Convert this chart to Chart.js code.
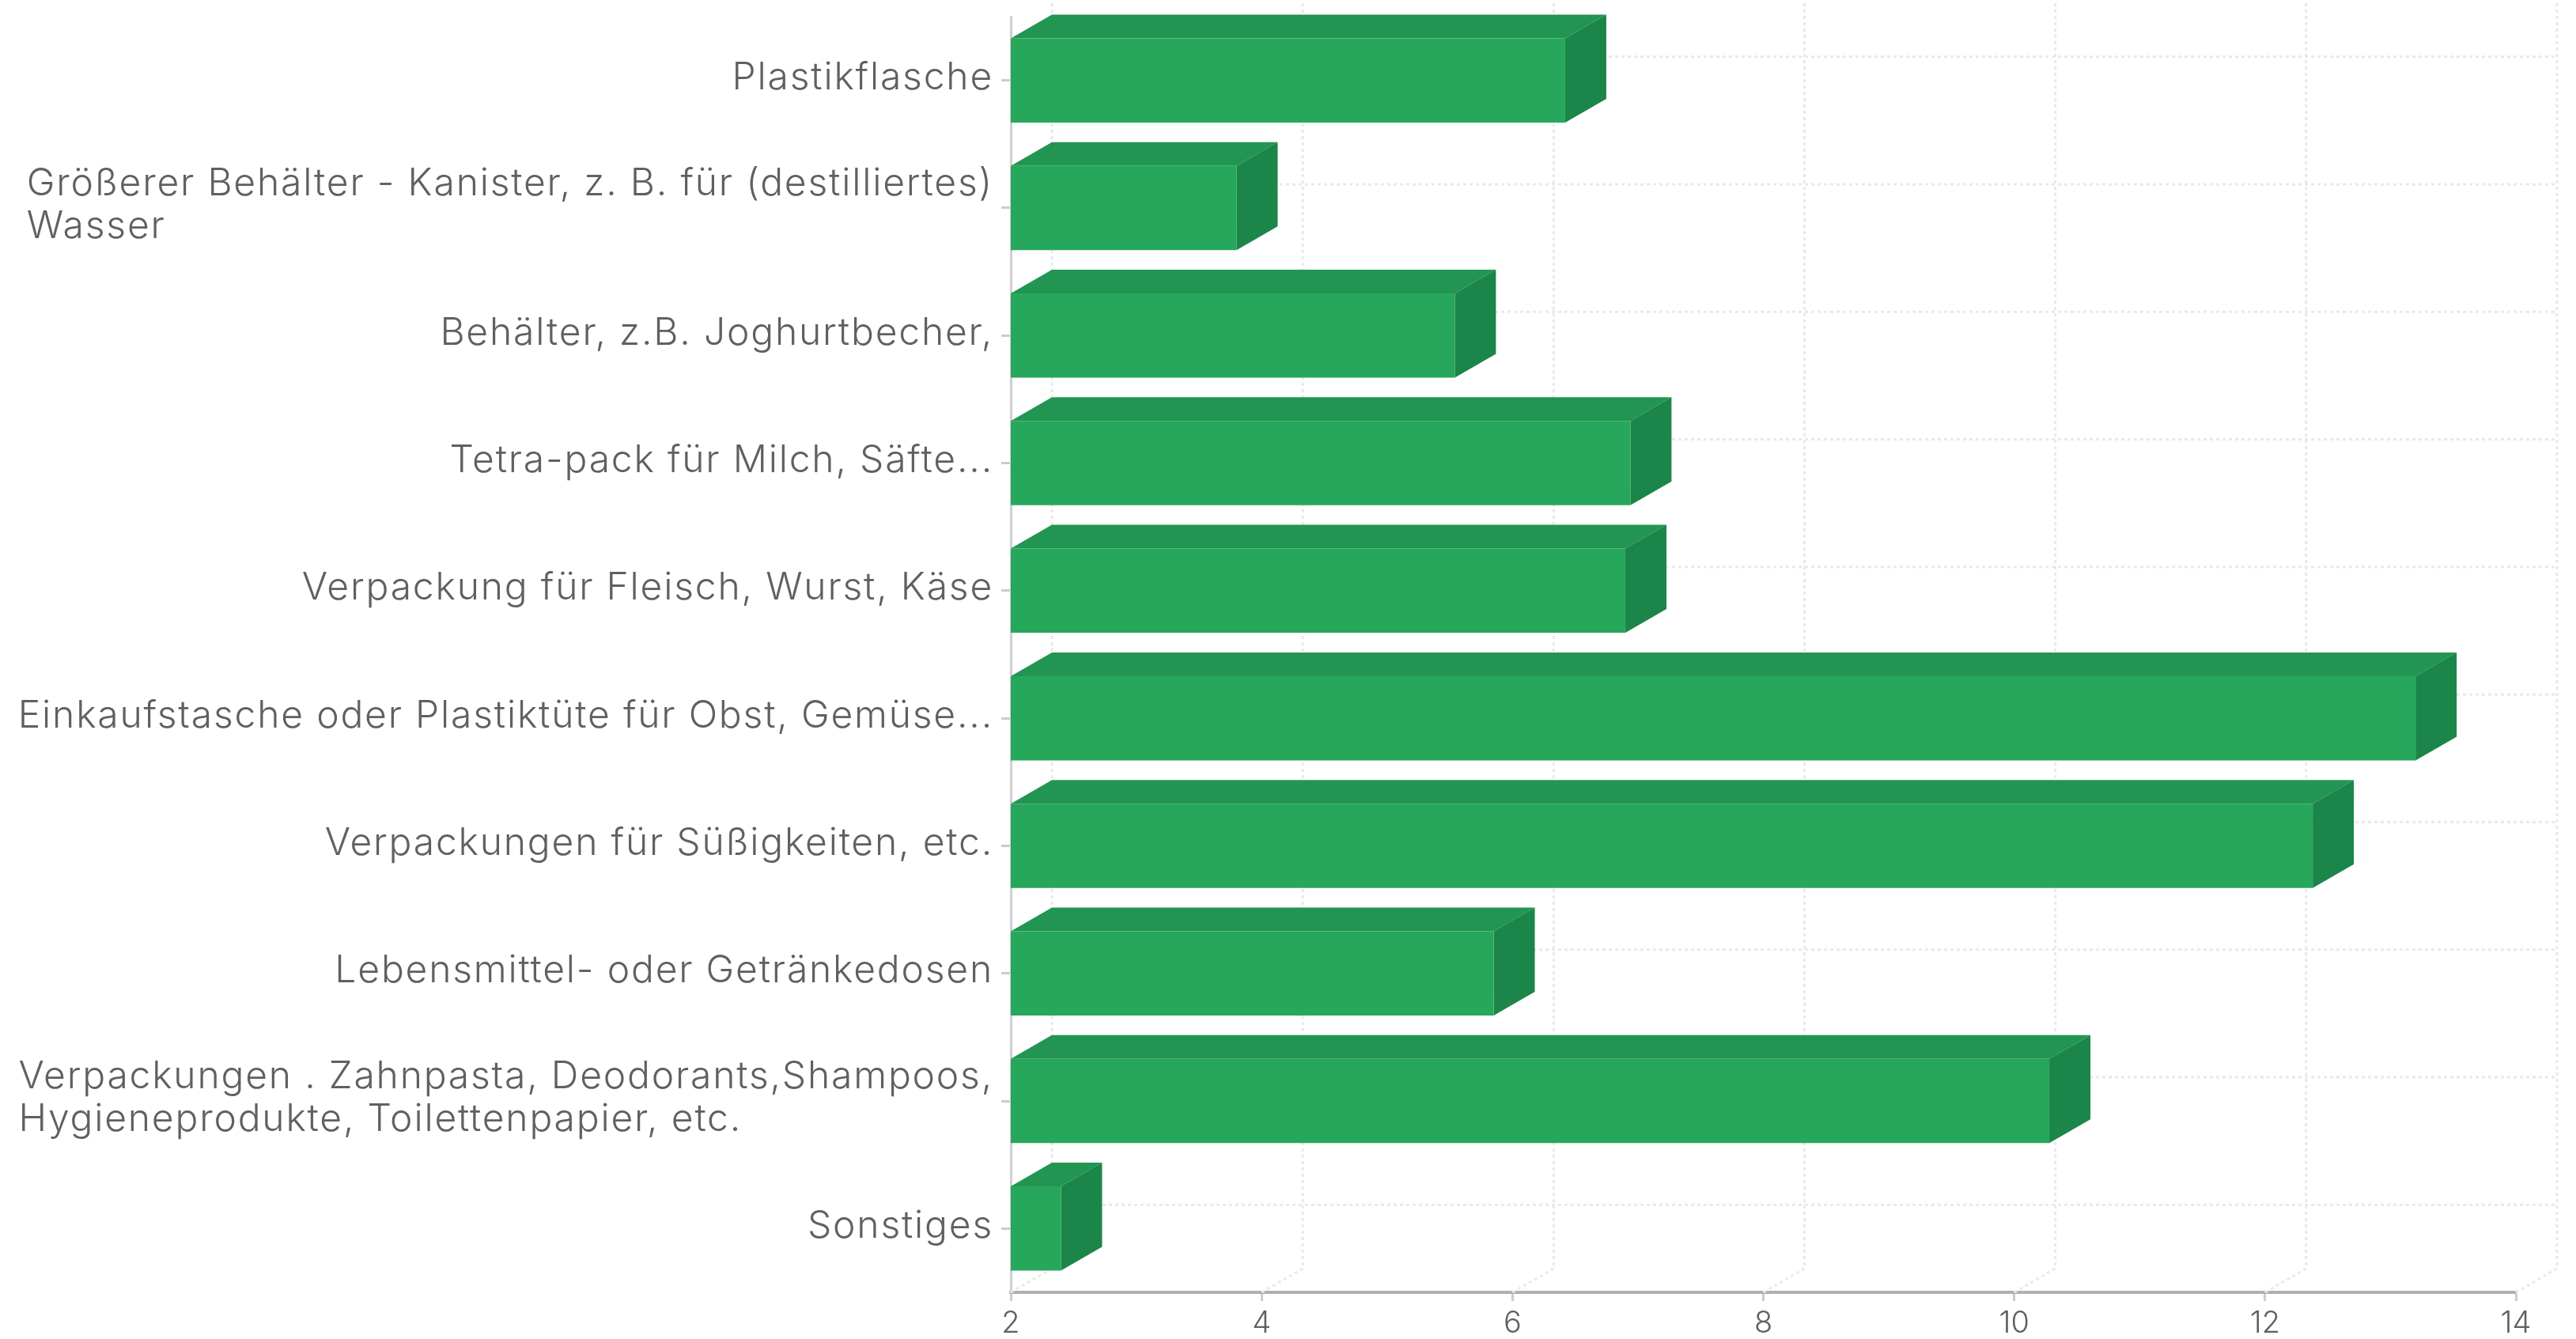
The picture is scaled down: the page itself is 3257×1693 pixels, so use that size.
<!DOCTYPE html>
<html>
<head>
<meta charset="utf-8">
<title>Chart</title>
<script src="https://cdn.jsdelivr.net/npm/chart.js@4"></script>
<style>
html, body { margin: 0; padding: 0; background: #fff; }
#wrap { width: 3257px; height: 1693px; }
</style>
</head>
<body>
<div id="wrap"><canvas id="lienzo"></canvas></div>
<script>
const categorias = [
    "Plastikflasche",
    ["Größerer Behälter - Kanister, z. B. für (destilliertes)", "Wasser"],
    "Behälter, z.B. Joghurtbecher,",
    "Tetra-pack für Milch, Säfte...",
    "Verpackung für Fleisch, Wurst, Käse",
    "Einkaufstasche oder Plastiktüte für Obst, Gemüse...",
    "Verpackungen für Süßigkeiten, etc.",
    "Lebensmittel- oder Getränkedosen",
    ["Verpackungen . Zahnpasta, Deodorants,Shampoos,", "Hygieneprodukte, Toilettenpapier, etc."],
    "Sonstiges"
]
const valores = [6.42, 3.8, 5.54, 6.94, 6.9, 13.2, 12.38, 5.85, 10.28, 2.4]
const ejeMin = 2
const ejeMax = 14
const ejePaso = 2

const colorFrente = "#27a75c"
const colorTecho = "#229553"
const colorLado = "#1c8549"
const fondoX = 52
const fondoY = 30
const fuente = '300 48px Inter'

// fondo 3D: rejilla punteada y caras de cada barra
const tresD = {
    id: "tresD",
    beforeDatasetsDraw(chart) {
        const ctx = chart.ctx
        const x = chart.scales.x
        const y = chart.scales.y
        const area = chart.chartArea
        ctx.save()
        ctx.strokeStyle = "#e9e9e9"
        ctx.lineWidth = 3
        ctx.setLineDash([4, 4])
        x.ticks.forEach((t, i) => {
            const px = x.getPixelForTick(i)
            ctx.beginPath()
            ctx.moveTo(px, area.bottom)
            ctx.lineTo(px + fondoX, area.bottom - fondoY)
            ctx.lineTo(px + fondoX, 0)
            ctx.stroke()
        })
        y.ticks.forEach((t, i) => {
            const py = y.getPixelForTick(i) - fondoY
            ctx.beginPath()
            ctx.moveTo(area.left + fondoX, py)
            ctx.lineTo(area.right + fondoX, py)
            ctx.stroke()
        })
        ctx.setLineDash([])
        chart.getDatasetMeta(0).data.forEach(bar => {
            const arriba = bar.y - bar.height / 2
            const abajo = bar.y + bar.height / 2
            const inicio = Math.max(bar.base, area.left)
            ctx.fillStyle = colorTecho
            ctx.beginPath()
            ctx.moveTo(inicio, arriba)
            ctx.lineTo(inicio + fondoX, arriba - fondoY)
            ctx.lineTo(bar.x + fondoX, arriba - fondoY)
            ctx.lineTo(bar.x, arriba)
            ctx.closePath()
            ctx.fill()
            ctx.fillStyle = colorLado
            ctx.beginPath()
            ctx.moveTo(bar.x, arriba)
            ctx.lineTo(bar.x + fondoX, arriba - fondoY)
            ctx.lineTo(bar.x + fondoX, abajo - fondoY)
            ctx.lineTo(bar.x, abajo)
            ctx.closePath()
            ctx.fill()
        })
        ctx.restore()
    },
    // etiquetas del eje y: las de dos lineas van alineadas a la izquierda
    afterDraw(chart) {
        const ctx = chart.ctx
        const y = chart.scales.y
        const derecha = y.right - 22
        ctx.save()
        ctx.font = fuente
        ctx.letterSpacing = "1.8px"
        ctx.fillStyle = "#606060"
        ctx.textBaseline = "middle"
        categorias.forEach((cat, i) => {
            const py = y.getPixelForTick(i) - 3
            if (Array.isArray(cat)) {
                const ancho = Math.max(...cat.map(l => ctx.measureText(l).width))
                ctx.textAlign = "left"
                ctx.fillText(cat[0], derecha - ancho, py - 27)
                ctx.fillText(cat[1], derecha - ancho, py + 27)
            } else {
                ctx.textAlign = "right"
                ctx.fillText(cat, derecha, py)
            }
        })
        ctx.restore()
    }
}

new Chart(document.getElementById("lienzo"), {
    type: "bar",
    data: {
        labels: categorias,
        datasets: [{
            label: "Werte",
            data: valores,
            backgroundColor: colorFrente,
            borderWidth: 0,
            barPercentage: 0.66,
            categoryPercentage: 1
        }]
    },
    options: {
        indexAxis: "y",
        responsive: true,
        maintainAspectRatio: false,
        animation: false,
        layout: { padding: { top: 21, right: 76, left: 0, bottom: 0 } },
        plugins: { legend: { display: false }, tooltip: { enabled: false } },
        scales: {
            x: {
                min: ejeMin,
                max: ejeMax,
                afterFit(scale) { scale.height = 59 },
                ticks: {
                    stepSize: ejePaso,
                    maxRotation: 0,
                    color: "#606060",
                    padding: 6,
                    font: { family: "Inter", size: 38, weight: 300 }
                },
                border: { color: "#b0b0b0", width: 4 },
                grid: { drawOnChartArea: false, tickLength: 11, tickColor: "#cccccc", tickWidth: 3 }
            },
            y: {
                afterFit(scale) { scale.width = 1278 },
                ticks: { display: false },
                border: { color: "#d0d0d0", width: 3 },
                grid: { offset: false, drawOnChartArea: false, tickLength: 12, tickColor: "#cccccc", tickWidth: 3 }
            }
        }
    },
    plugins: [tresD]
})
</script>
</body>
</html>
